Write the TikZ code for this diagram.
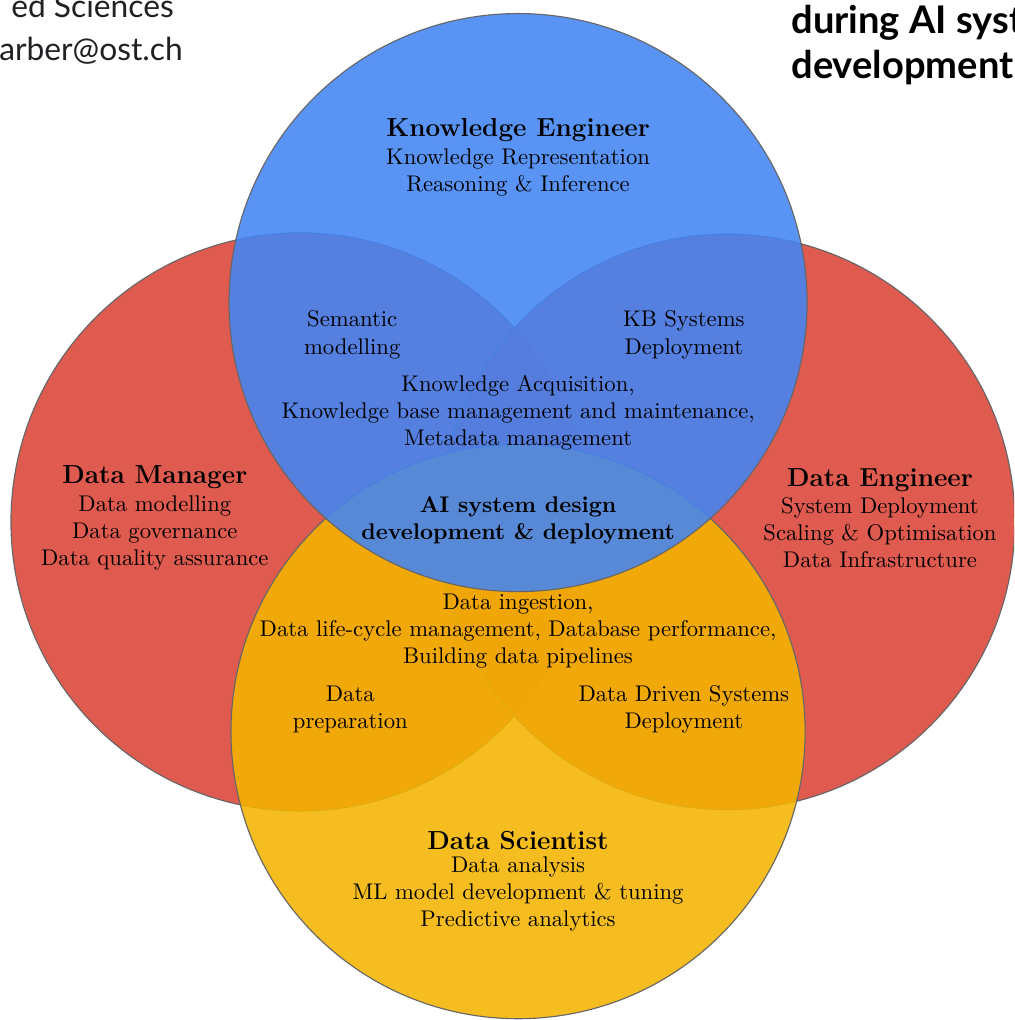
\documentclass[tikz,border=0pt]{standalone}
\usepackage{fontspec}
\newfontfamily\slidefont{Lato}
\definecolor{kblue}{HTML}{4285F4}
\definecolor{kred}{HTML}{DB4437}
\definecolor{kyellow}{HTML}{F4B400}
\definecolor{slidegray}{HTML}{202124}

\begin{document}
\begin{tikzpicture}[font=\normalsize,
    venn/.style={draw=black!60, line width=0.5pt, fill opacity=0.88},
    role/.style={align=center, inner sep=1pt},
    overlap/.style={align=center, inner sep=1pt},
    slide/.style={inner sep=0pt, text=slidegray, font=\slidefont\fontsize{14}{16}\selectfont}]
  \newcommand{\rolename}[1]{{\fontsize{11.5}{13}\selectfont\bfseries #1}}
  \useasboundingbox (-8.03,-7.80) rectangle (7.69,8.01);
  \clip (-8.03,-7.80) rectangle (7.69,8.01);
  % the four roles
  \draw[venn, fill=kred] (-3.38,-0.08) circle (4.48);
  \draw[venn, fill=kred] (3.24,-0.08) circle (4.46);
  \draw[venn, fill=kyellow] (0,-3.33) circle (4.45);
  \draw[venn, fill=kblue] (0,3.32) circle (4.48);
  \node[role] (ke) at (0,5.57)
       {\rolename{Knowledge Engineer}\\ Knowledge Representation\\ Reasoning \& Inference};
  \node[role] (dm) at (-5.63,-0.02)
       {\rolename{Data Manager}\\ Data modelling\\ Data governance\\ Data quality assurance};
  \node[role] (de) at (5.61,-0.02)
       {\rolename{Data Engineer}\\ System Deployment\\ Scaling \& Optimisation\\ Data Infrastructure};
  \node[role] (ds) at (0,-5.65)
       {\rolename{Data Scientist}\\[-2pt] Data analysis\\ ML model development \& tuning\\ Predictive analytics};
  % overlaps
  \node[overlap] (sem) at (-2.57,2.82) {Semantic\\ modelling};
  \node[overlap] (kbs) at (2.57,2.82) {KB Systems\\ Deployment};
  \node[overlap] (kacq) at (0,1.61)
       {Knowledge Acquisition,\\ Knowledge base management and maintenance,\\ Metadata management};
  \node[overlap, font=\bfseries] (core) at (0,-0.05) {AI system design\\ development \& deployment};
  \node[overlap] (ding) at (0,-1.77)
       {Data ingestion,\\ Data life-cycle management, Database performance,\\ Building data pipelines};
  \node[overlap] (dprep) at (-2.60,-2.99) {Data\\ preparation};
  \node[overlap] (dds) at (2.57,-2.99) {Data Driven Systems\\ Deployment};
  % slide text cut by the frame
  \node[slide, anchor=base east] (inst) at (-5.33,7.74) {ed Sciences};
  \node[slide, anchor=base east] (mail) at (-5.19,7.08) {arber@ost.ch};
  \node[slide, anchor=base west, text=black, font=\slidefont\fontsize{16.8}{19}\selectfont\bfseries] (head1) at (4.23,7.49) {during AI syst};
  \node[slide, anchor=base west, text=black, font=\slidefont\fontsize{16.8}{19}\selectfont\bfseries] (head2) at (4.23,6.79) {development};
\end{tikzpicture}
\end{document}
